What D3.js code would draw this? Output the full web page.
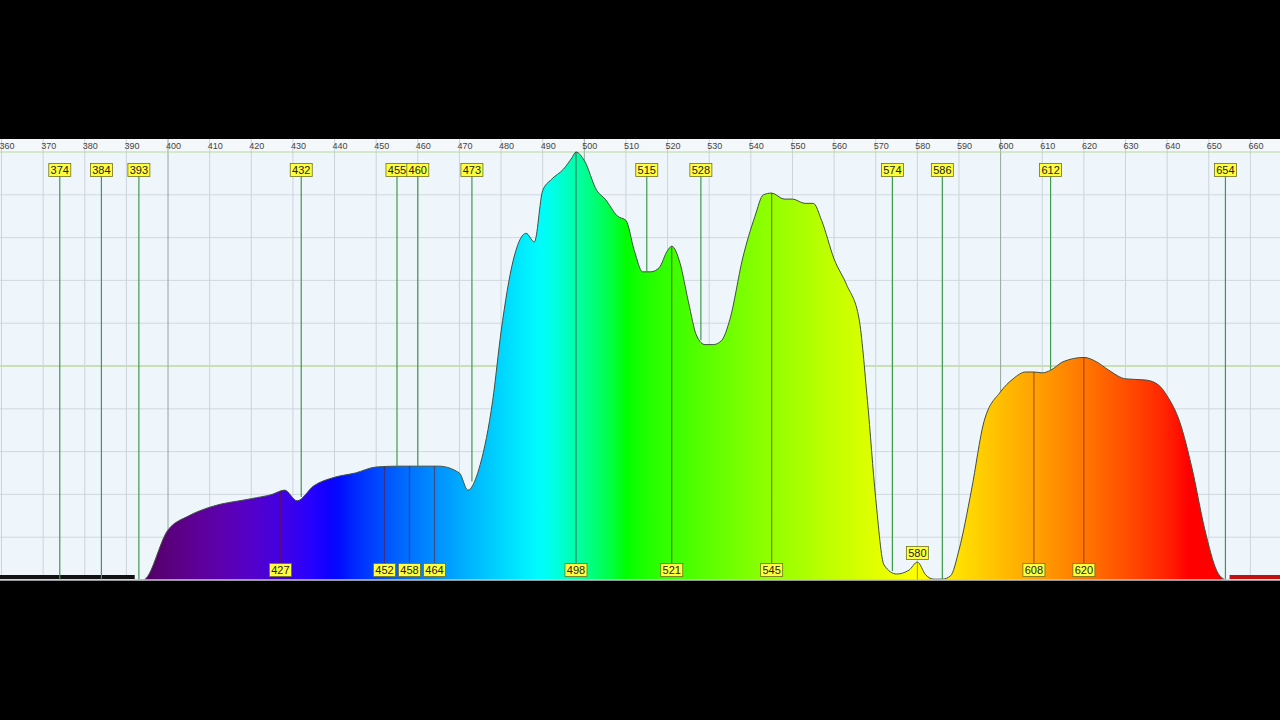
<!DOCTYPE html>
<html><head><meta charset="utf-8">
<script src="https://cdn.jsdelivr.net/npm/d3@7"></script>
<style>body{margin:0;background:#000}svg{display:block}</style>
</head><body>
<svg id="chart" width="1280" height="720"></svg>
<script>
// spectrum intensity (0..100)
var wavelengths = [393,394,400,405,410,420,425,428,431,435,440,445,450,455,460,465,470,472,475,478,480,483,486,488,490,492,495,497,498,500,503,505,508,510,512,514,516,518,520,521,523,525,527,529,531,533,535,538,541,543,545,548,550,553,555,557,560,563,566,568,570,572,575,578,580,582,584,586,588,590,593,596,600,603,606,608,610,612,615,620,623,626,630,635,638,640,643,646,649,652,654]
var intensity   = [0,0,11.7,15,17,19,20,21,18.5,22,24,25,26.4,26.6,26.6,26.6,25,21,27,42,58,75,81,79,91,93.5,96,98.6,100,98,91,89,85,84,77,72,72,73,77,78,74,65,57,55,55,56,61,75,85,90,90.4,89,89,88,88,84,75,69,61,42,19,3.5,1.4,2.3,4.2,1.2,0.2,0.2,1,7,21,37,44,47,48.6,48.6,48.4,49,51,52,51,49,47,46.7,45.5,43,37,26,12,2,0]
var topMarkers    = [374,384,393,432,455,460,473,515,528,574,586,612,654]
var bottomMarkers = [427,452,458,464,498,521,545,608,620]
var peakMarkers   = [580]
var axisTicks = d3.range(360, 661, 10)

var svg = d3.select('#chart')
var top0 = 139, plotTop = 152, plotBottom = 580
var x = d3.scaleLinear().domain([360, 660]).range([1.5, 1250.4])
var y = d3.scaleLinear().domain([0, 100]).range([plotBottom, plotTop])

function wlColor(w) {
    var r = 0, g = 0, b = 0
    if (w < 440) { r = -(w - 440) / 60; b = 1 }
    else if (w < 490) { g = (w - 440) / 50; b = 1 }
    else if (w < 510) { g = 1; b = -(w - 510) / 20 }
    else if (w < 580) { r = (w - 510) / 70; g = 1 }
    else if (w < 645) { r = 1; g = -(w - 645) / 65 }
    else r = 1
    var f = 1
    if (w < 435) f = 0.3 + 0.7 * Math.max(0, w - 394) / 41
    var gam = 0.8
    return d3.rgb(255 * Math.pow(r * f, gam), 255 * Math.pow(g * f, gam), 255 * Math.pow(b * f, gam))
}

svg.append('rect').attr('x', 0).attr('y', top0).attr('width', 1280).attr('height', plotBottom - top0).attr('fill', '#eef6fc')
svg.append('rect').attr('x', 0).attr('y', top0).attr('width', 1280).attr('height', plotTop - top0).attr('fill', '#f4f8fb')

// grid
svg.selectAll('.hg').data(d3.range(10, 100, 10)).enter().append('line')
    .attr('x1', 0).attr('x2', 1280).attr('y1', d => y(d)).attr('y2', d => y(d))
    .attr('stroke', d => d == 50 ? '#a8c870' : '#d0d8de').attr('stroke-width', 1)
svg.selectAll('.vg').data(axisTicks).enter().append('line')
    .attr('x1', d => x(d)).attr('x2', d => x(d)).attr('y1', top0).attr('y2', plotBottom)
    .attr('stroke', d => d % 100 == 0 ? '#90a898' : '#ccd4da').attr('stroke-width', 1)
svg.append('line').attr('x1', 0).attr('x2', 1280).attr('y1', plotTop).attr('y2', plotTop).attr('stroke', '#b8d898')
svg.selectAll('.tl').data(axisTicks).enter().append('text')
    .attr('x', d => x(d) - 2).attr('y', 149).text(d => d)
    .attr('font-family', 'Arial, Liberation Sans, sans-serif').attr('font-size', 9).attr('fill', '#444')

// gradient
var grad = svg.append('defs').append('linearGradient').attr('id', 'spec')
    .attr('gradientUnits', 'userSpaceOnUse').attr('x1', x(393)).attr('x2', x(654)).attr('y1', 0).attr('y2', 0)
grad.selectAll('stop').data(d3.range(393, 655, 3)).enter().append('stop')
    .attr('offset', d => (d - 393) / (654 - 393)).attr('stop-color', d => wlColor(d))

var pts = wavelengths.map((w, i) => [w, intensity[i]])
var area = d3.area().x(d => x(d[0])).y0(plotBottom).y1(d => y(d[1])).curve(d3.curveMonotoneX)
svg.append('path').datum(pts).attr('d', area).attr('fill', 'url(#spec)')
svg.append('path').datum(pts).attr('d', d3.line().x(d => x(d[0])).y(d => y(d[1])).curve(d3.curveMonotoneX))
    .attr('fill', 'none').attr('stroke', '#405040').attr('stroke-width', 1)

// edges outside the spectrum
svg.append('rect').attr('x', 0).attr('y', 575).attr('width', x(392)).attr('height', 4).attr('fill', '#111')
svg.append('rect').attr('x', x(655)).attr('y', 575).attr('width', 1280 - x(655)).attr('height', 4).attr('fill', '#c01010')

function valueAt(w) {
    var i = d3.bisectLeft(wavelengths, w)
    if (i <= 0) return 0
    if (i >= wavelengths.length) return 0
    var a = wavelengths[i - 1], b = wavelengths[i]
    return intensity[i - 1] + (intensity[i] - intensity[i - 1]) * (w - a) / (b - a)
}

function label(xc, yc, t) {
    var g = svg.append('g')
    g.append('rect').attr('x', xc - 11).attr('y', yc - 6.5).attr('width', 22).attr('height', 13)
        .attr('fill', '#ffff3c').attr('stroke', '#707020').attr('stroke-width', 0.8)
    g.append('text').attr('x', xc).attr('y', yc + 4).attr('text-anchor', 'middle').text(t)
        .attr('font-family', 'Arial, Liberation Sans, sans-serif').attr('font-size', 11).attr('fill', '#222')
}

topMarkers.forEach(function (m) {
    svg.append('line').attr('x1', x(m)).attr('x2', x(m)).attr('y1', 176).attr('y2', y(valueAt(m)))
        .attr('stroke', '#3e9a4a').attr('stroke-width', 1.2)
    label(x(m), 170, m)
})
bottomMarkers.forEach(function (m) {
    svg.append('line').attr('x1', x(m)).attr('x2', x(m)).attr('y1', y(valueAt(m))).attr('y2', 564)
        .attr('stroke', 'rgba(110,20,40,0.55)').attr('stroke-width', 1.2)
    label(x(m), 570, m)
})
peakMarkers.forEach(function (m) {
    svg.append('line').attr('x1', x(m)).attr('x2', x(m)).attr('y1', y(valueAt(m))).attr('y2', plotBottom)
        .attr('stroke', 'rgba(110,90,20,0.6)').attr('stroke-width', 1)
    label(x(m), 553, m)
})
svg.append('line').attr('x1', 0).attr('x2', 1280).attr('y1', 580).attr('y2', 580).attr('stroke', '#c8c8d0').attr('stroke-width', 1.5)
</script>
</body></html>
